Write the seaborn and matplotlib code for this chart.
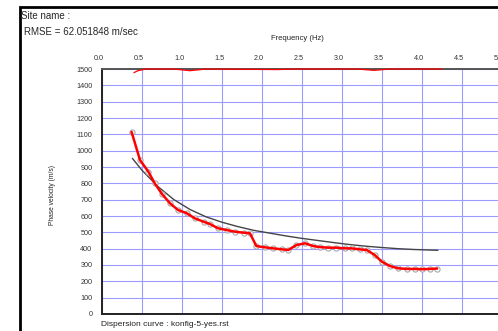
import matplotlib
matplotlib.use("Agg")
import matplotlib.pyplot as plt
import matplotlib.transforms as mtransforms
from matplotlib.patches import Rectangle
import seaborn as sns

# measured dispersion curve (red, with circle markers)
freq_obs = [0.37, 0.475, 0.58, 0.66, 0.75, 0.85, 0.95, 1.06, 1.16, 1.27, 1.35, 1.45, 1.56, 1.66,
            1.77, 1.85, 1.93, 2.04, 2.14, 2.25, 2.33, 2.43, 2.54, 2.64, 2.72, 2.83, 2.93, 3.04,
            3.12, 3.22, 3.31, 3.41, 3.50, 3.60, 3.70, 3.81, 3.91, 4.00, 4.10, 4.19]
vel_obs = [1115, 943, 871, 800, 735, 678, 637, 617, 586, 565, 551, 525, 514, 504,
           498, 494, 416, 408, 402, 396, 392, 422, 433, 416, 410, 406, 406, 402,
           402, 396, 392, 361, 320, 294, 280, 276, 276, 274, 276, 278]

# theoretical curve (dark grey)
freq_fit = [0.38, 0.5, 0.7, 0.9, 1.1, 1.3, 1.5, 1.7, 1.9, 2.1, 2.3, 2.5, 2.7, 2.9, 3.1, 3.3,
            3.5, 3.7, 3.9, 4.2]
vel_fit = [953, 880, 780, 700, 640, 595, 562, 535, 512, 495, 478, 463, 450, 437, 425, 415,
           407, 400, 395, 390]

# clipped curve along the top edge
freq_top = [0.40, 0.45, 0.55, 0.9, 1.1, 1.3, 2.2, 2.4, 3.2, 3.4, 3.6, 4.25]
vel_top = [1478, 1490, 1500, 1500, 1490, 1500, 1497, 1500, 1500, 1492, 1500, 1500]

x_ticks = [0.0, 0.5, 1.0, 1.5, 2.0, 2.5, 3.0, 3.5, 4.0, 4.5, 5.0]
y_ticks = list(range(0, 1600, 100))

sns.set_style("white")
plt.rcParams["font.family"] = ["Liberation Sans", "DejaVu Sans"]

fig = plt.figure(figsize=(4.98, 3.31), dpi=100)
ax = fig.add_axes([0.2048, 0.0514, 0.803, 0.740])

sns.lineplot(x=freq_fit, y=vel_fit, color="#444444", lw=1.0, ax=ax, zorder=3)
# grey open markers under the red line
sns.scatterplot(x=freq_obs, y=vel_obs, s=14, facecolor="white", edgecolor="#a8a8a8",
                linewidth=0.8, ax=ax, zorder=4)
sns.lineplot(x=freq_obs, y=vel_obs, color="red", lw=1.8, ax=ax, zorder=5)
sns.lineplot(x=freq_top, y=vel_top, color="red", lw=0.9, ax=ax, zorder=6, clip_on=False)

ax.set_xlim(0, 5)
ax.set_ylim(0, 1500)
ax.set_xticks(x_ticks)
ax.set_yticks(y_ticks)
ax.xaxis.tick_top()
ax.set_xticklabels([f"{t:.1f}" for t in x_ticks])
ax.tick_params(axis="both", length=0, labelsize=5.2, labelcolor="#333333")
ax.tick_params(axis="x", pad=5)
ax.tick_params(axis="y", pad=7)
offset = mtransforms.ScaledTranslation(-3 / 100, 0, fig.dpi_scale_trans)
for lab in ax.get_xticklabels():
    lab.set_transform(lab.get_transform() + offset)

ax.grid(True, color="#9c9cff", lw=0.8)
ax.set_axisbelow(True)
for side in ["left", "bottom"]:
    ax.spines[side].set_color("#222222")
    ax.spines[side].set_linewidth(1.4)
ax.spines["top"].set_color("#555555")
ax.spines["top"].set_linewidth(1.4)
ax.spines["right"].set_visible(False)

ax.set_xlabel("")
ax.set_ylabel("")
fig.text(297 / 498, 1 - 39 / 331, "Frequency (Hz)", fontsize=5.5, ha="center", va="center",
         color="#222222")
fig.text(52 / 498, 1 - 195 / 331, "Phase velocity (m/s)", fontsize=4.8, rotation=90,
         ha="center", va="center", color="#222222")
fig.text(21 / 498, 1 - 16 / 331, "Site name :", fontsize=7, ha="left", va="center")
fig.text(24 / 498, 1 - 32 / 331, "RMSE = 62.051848 m/sec", fontsize=7, ha="left", va="center")
fig.text(101 / 498, 1 - 324 / 331, "Dispersion curve : konfig-5-yes.rst", fontsize=6,
         ha="left", va="center", color="#222222")

# outer frame
fig.patches.append(Rectangle((20 / 498, -0.1), 1.2, 1 - 7 / 331 + 0.1, fill=False,
                             edgecolor="black", lw=2, transform=fig.transFigure))

fig.savefig("out.png", dpi=100)
